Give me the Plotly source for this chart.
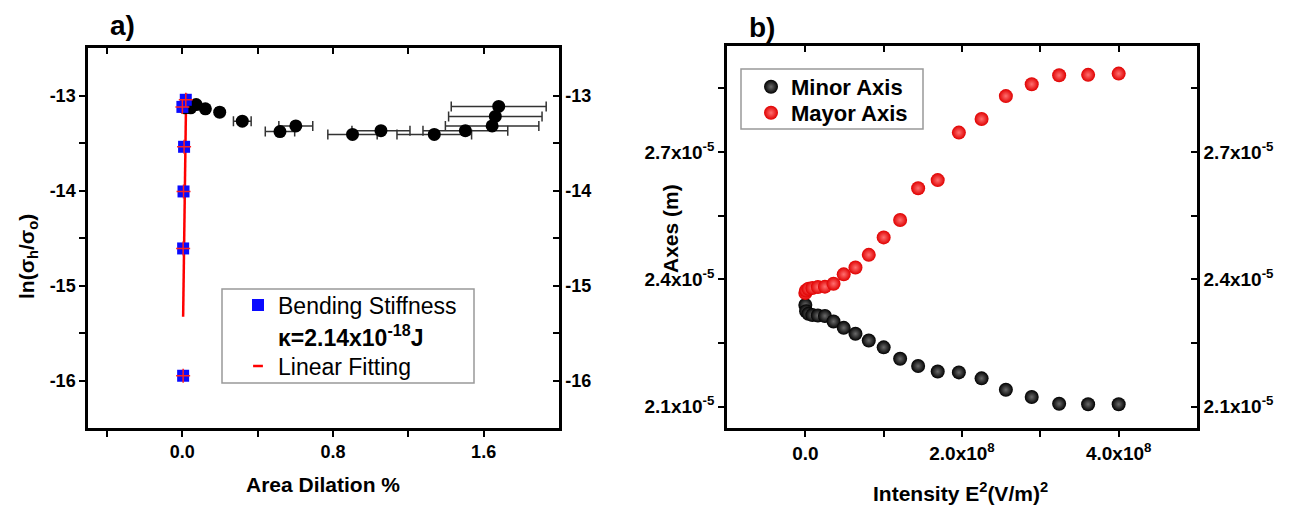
import plotly.graph_objects as go

W, H = 1302, 514
FONT = "Arial, Liberation Sans, sans-serif"

# ---------------- Panel a data ----------------
bend_x = [0.019, 0.001, 0.010, 0.007, 0.005, 0.005]
bend_y = [-13.045, -13.12, -13.54, -14.01, -14.61, -15.95]
fit_x = [0.005, 0.021]
fit_y = [-15.33, -12.98]
dil_x = [0.014, 0.045, 0.074, 0.123, 0.199, 0.319, 0.519, 0.603, 0.904, 1.055, 1.338, 1.503, 1.645, 1.662, 1.680]
dil_y = [-13.13, -13.13, -13.095, -13.14, -13.175, -13.27, -13.38, -13.32, -13.41, -13.37, -13.41, -13.37, -13.32, -13.22, -13.115]
dil_err = [0.0, 0.01, 0.01, 0.012, 0.02, 0.047, 0.078, 0.09, 0.131, 0.154, 0.198, 0.225, 0.248, 0.248, 0.252]
a_xticks = [0.0, 0.8, 1.6]
a_xlabels = ["0.0", "0.8", "1.6"]
a_xminor = [-0.4, 0.4, 1.2]
a_yticks = [-16.0, -15.0, -14.0, -13.0]
a_ylabels = ["-16", "-15", "-14", "-13"]
a_yminor = [-15.5, -14.5, -13.5]

# ---------------- Panel b data ----------------
intensity = [0, 1e6, 4e6, 9e6, 1.6e7, 2.5e7, 3.6e7, 4.9e7, 6.4e7, 8.1e7, 1.0e8,
             1.21e8, 1.44e8, 1.69e8, 1.96e8, 2.25e8, 2.56e8, 2.89e8, 3.24e8, 3.61e8, 4.0e8]
minor_axis = [2.340e-5, 2.325e-5, 2.319e-5, 2.316e-5, 2.315e-5, 2.314e-5, 2.301e-5, 2.286e-5,
              2.272e-5, 2.256e-5, 2.240e-5, 2.213e-5, 2.196e-5, 2.183e-5, 2.181e-5, 2.167e-5,
              2.140e-5, 2.123e-5, 2.107e-5, 2.106e-5, 2.106e-5]
mayor_axis = [2.368e-5, 2.374e-5, 2.378e-5, 2.380e-5, 2.382e-5, 2.383e-5, 2.390e-5, 2.412e-5,
              2.428e-5, 2.458e-5, 2.499e-5, 2.540e-5, 2.615e-5, 2.634e-5, 2.746e-5, 2.778e-5,
              2.832e-5, 2.860e-5, 2.881e-5, 2.882e-5, 2.885e-5]
b_xticks = [0, 2e8, 4e8]
b_xlabels = ["0.0", "2.0x10<sup>8</sup>", "4.0x10<sup>8</sup>"]
b_xminor = [1e8, 3e8]
b_yticks = [2.1e-5, 2.4e-5, 2.7e-5]
b_ylabels = ["2.1x10<sup>-5</sup>", "2.4x10<sup>-5</sup>", "2.7x10<sup>-5</sup>"]
b_yminor = [2.25e-5, 2.55e-5, 2.85e-5]

fig = go.Figure()

# Panel a traces
fig.add_trace(go.Scatter(x=fit_x, y=fit_y, mode="lines", line=dict(color="#ff0000", width=2.5),
                         showlegend=False, xaxis="x", yaxis="y"))
fig.add_trace(go.Scatter(x=dil_x, y=dil_y, mode="markers",
                         marker=dict(color="black", size=13, symbol="circle"),
                         error_x=dict(type="data", array=dil_err, color="#333333", thickness=1.5, width=5),
                         showlegend=False, xaxis="x", yaxis="y"))
fig.add_trace(go.Scatter(x=bend_x, y=bend_y, mode="markers", name="Bending Stiffness",
                         marker=dict(color="#0a0aff", size=12, symbol="square"),
                         legend="legend", xaxis="x", yaxis="y"))
fig.add_trace(go.Scatter(x=bend_x, y=bend_y, mode="markers",
                         marker=dict(color="#ff2020", size=10, symbol="cross-thin",
                                     line=dict(color="#ff2020", width=1.5)),
                         showlegend=False, xaxis="x", yaxis="y"))
fig.add_trace(go.Scatter(x=[None], y=[None], mode="markers", name="<b>\u03ba=2.14x10<sup>-18</sup>J</b>",
                         marker=dict(color="rgba(0,0,0,0)", size=0, line=dict(width=0)),
                         legend="legend3", xaxis="x", yaxis="y"))
fig.add_trace(go.Scatter(x=[None], y=[None], mode="markers", name="Linear Fitting",
                         marker=dict(color="#ff0000", size=7, symbol="line-ew-open",
                                     line=dict(color="#ff0000", width=2.5)),
                         legend="legend4", xaxis="x", yaxis="y"))

# Panel b traces
fig.add_trace(go.Scatter(x=intensity, y=minor_axis, mode="markers", name="<b>Minor Axis</b>",
                         marker=dict(color="#000000", size=14,
                                     gradient=dict(type="radial", color="#6a6a6a"),
                                     line=dict(width=0)),
                         legend="legend2", xaxis="x2", yaxis="y2"))
fig.add_trace(go.Scatter(x=intensity, y=mayor_axis, mode="markers", name="<b>Mayor Axis</b>",
                         marker=dict(color="#e00000", size=14,
                                     gradient=dict(type="radial", color="#ff7070"),
                                     line=dict(width=0)),
                         legend="legend5", xaxis="x2", yaxis="y2"))


def ax_common(size, minor_vals, direction):
    return dict(showgrid=False, zeroline=False, showline=True, linecolor="black", linewidth=2.5,
                tickcolor="black", tickwidth=2, ticklen=6, ticks=direction,
                minor=dict(tickmode="array", tickvals=minor_vals, ticks=direction, ticklen=6,
                           tickwidth=2, tickcolor="black", showgrid=False),
                tickfont=dict(family=FONT, size=size, color="black"))


def bold(lst):
    return ["<b>%s</b>" % t for t in lst]


a_xdom = [88 / W, 559 / W]
b_xdom = [727 / W, 1197 / W]
a_ydom = [1 - 428 / H, 1 - 48 / H]
b_ydom = [1 - 428 / H, 1 - 46 / H]


def leg(px, py, size):
    return dict(x=px / W, y=1 - py / H, xanchor="left", yanchor="middle",
                bgcolor="rgba(0,0,0,0)", borderwidth=0,
                font=dict(family=FONT, size=size, color="black"), tracegroupgap=0)


fig.update_layout(
    width=W, height=H, margin=dict(l=0, r=0, t=0, b=0),
    paper_bgcolor="white", plot_bgcolor="white",
    xaxis=dict(domain=a_xdom, range=[-0.5, 2.0], anchor="y", tickmode="array",
               tickvals=a_xticks, ticktext=bold(a_xlabels), **ax_common(18, a_xminor, "outside")),
    yaxis=dict(domain=a_ydom, range=[-16.5, -12.5], anchor="x", tickmode="array",
               tickvals=a_yticks, ticktext=bold(a_ylabels), **ax_common(18, a_yminor, "outside")),
    xaxis3=dict(domain=a_xdom, range=[-0.5, 2.0], anchor="y", overlaying="x", side="top",
                tickmode="array", tickvals=a_xticks, showticklabels=False,
                **ax_common(18, a_xminor, "inside")),
    yaxis3=dict(domain=a_ydom, range=[-16.5, -12.5], anchor="x", overlaying="y", side="right",
                tickmode="array", tickvals=a_yticks, ticktext=bold(a_ylabels),
                **ax_common(18, a_yminor, "inside")),
    xaxis2=dict(domain=b_xdom, range=[-1e8, 5e8], anchor="y2", tickmode="array",
                tickvals=b_xticks, ticktext=bold(b_xlabels), **ax_common(19, b_xminor, "outside")),
    yaxis2=dict(domain=b_ydom, range=[2.05e-5, 2.95e-5], anchor="x2", tickmode="array",
                tickvals=b_yticks, ticktext=bold(b_ylabels), **ax_common(19, b_yminor, "outside")),
    xaxis4=dict(domain=b_xdom, range=[-1e8, 5e8], anchor="y2", overlaying="x2", side="top",
                tickmode="array", tickvals=b_xticks, showticklabels=False,
                **ax_common(19, b_xminor, "inside")),
    yaxis4=dict(domain=b_ydom, range=[2.05e-5, 2.95e-5], anchor="x2", overlaying="y2", side="right",
                tickmode="array", tickvals=b_yticks, ticktext=bold(b_ylabels),
                **ax_common(19, b_yminor, "inside")),
    legend=leg(238, 305, 23),
    legend3=leg(238, 337, 23),
    legend4=leg(238, 366, 23),
    legend2=leg(751, 87, 22),
    legend5=leg(751, 113, 22),
)

# dummy traces so overlay axes are drawn
fig.add_trace(go.Scatter(x=[None], y=[None], xaxis="x3", yaxis="y3", showlegend=False, hoverinfo="skip"))
fig.add_trace(go.Scatter(x=[None], y=[None], xaxis="x4", yaxis="y4", showlegend=False, hoverinfo="skip"))

# legend boxes
fig.add_shape(type="rect", xref="paper", yref="paper", x0=222 / W, x1=474 / W, y0=1 - 383 / H, y1=1 - 289 / H,
              line=dict(color="#999999", width=1.5), fillcolor="rgba(0,0,0,0)", layer="above")
fig.add_shape(type="rect", xref="paper", yref="paper", x0=741 / W, x1=923 / W, y0=1 - 129 / H, y1=1 - 69 / H,
              line=dict(color="#999999", width=1.5), fillcolor="rgba(0,0,0,0)", layer="above")


def ann(text, px, py, size, angle=0, bold=True):
    fig.add_annotation(text=("<b>%s</b>" % text) if bold else text, xref="paper", yref="paper",
                       x=px / W, y=1 - py / H, xanchor="center", yanchor="middle", showarrow=False,
                       textangle=angle, font=dict(family=FONT, size=size, color="black"))


ann("a)", 123, 25, 28)
ann("b)", 762, 27, 28)
ann("ln(\u03c3<sub>h</sub>/\u03c3<sub>o</sub>)", 28, 257, 21, angle=-90)
ann("Area Dilation %", 323, 484, 21)
ann("Axes (m)", 670, 228, 21, angle=-90)
ann("Intensity E<sup>2</sup>(V/m)<sup>2</sup>", 960, 492, 21)

fig.write_html("out.html", config={"displayModeBar": False},
               post_script="document.body.style.margin='0px';document.body.style.overflow='hidden';")
